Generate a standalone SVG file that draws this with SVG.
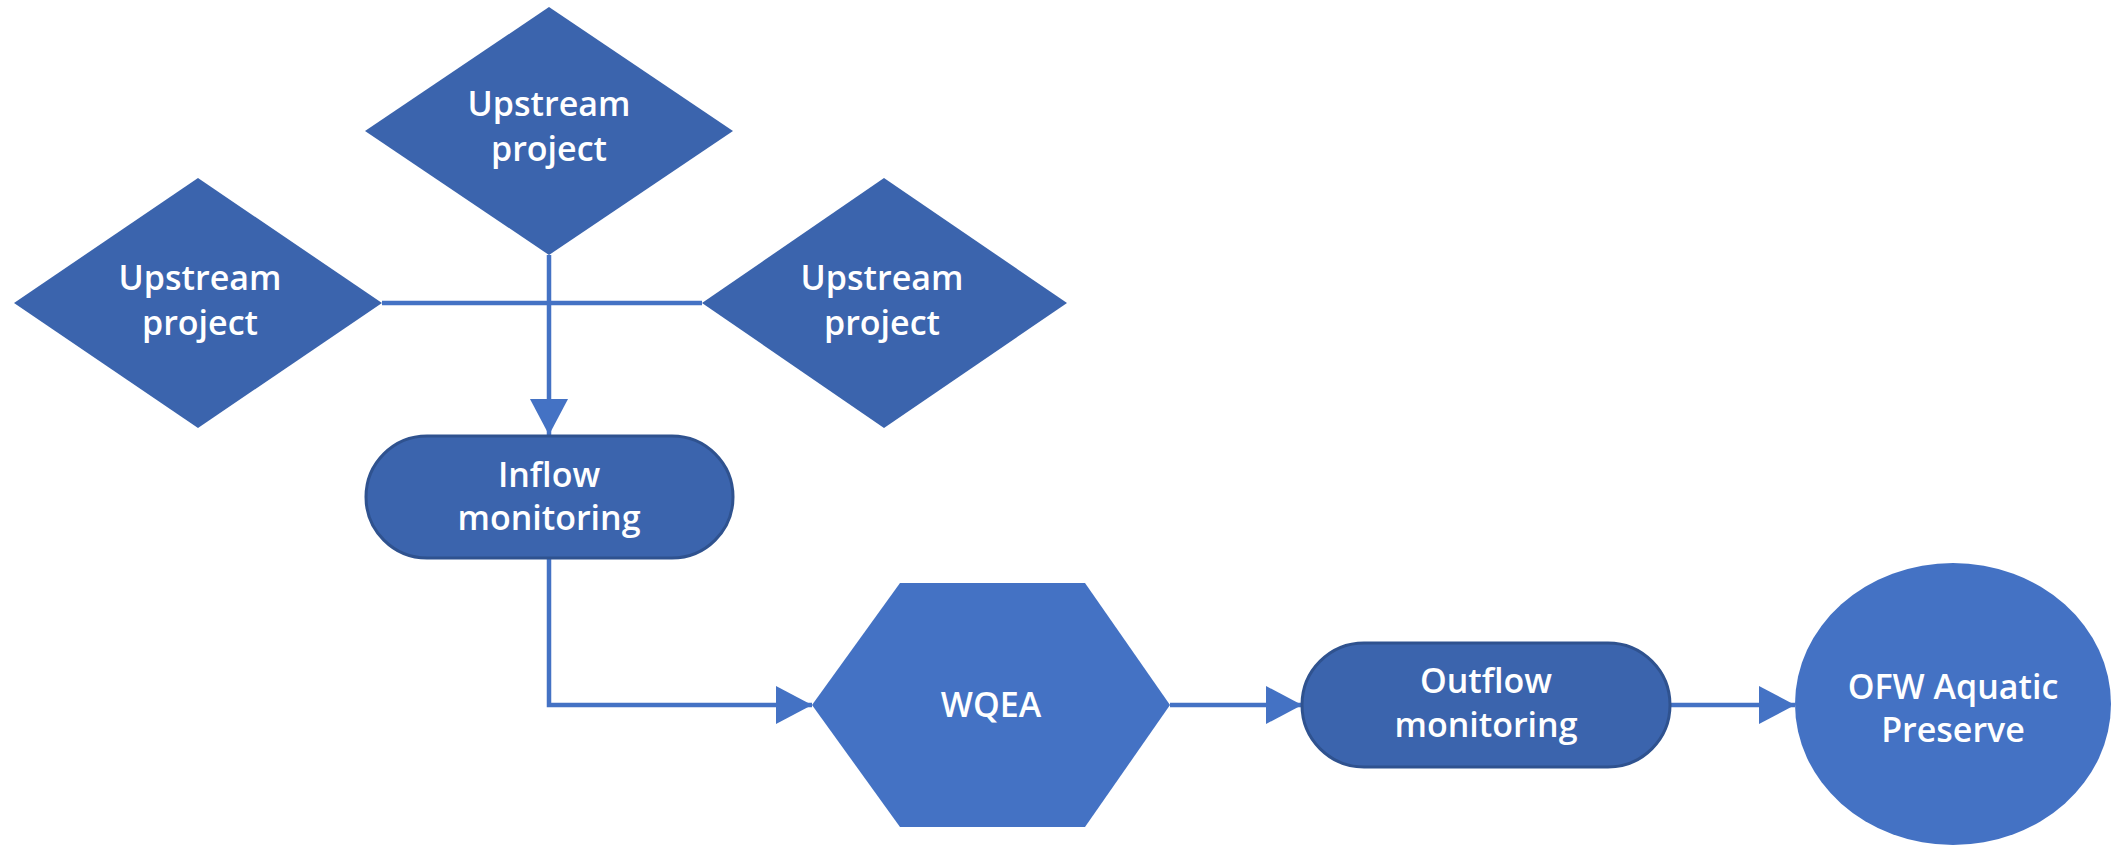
<svg xmlns="http://www.w3.org/2000/svg" width="2111" height="847" viewBox="0 0 2111 847">
<style>
.dk{fill:#3B64AD;}
.pill{fill:#3B64AD;stroke:#2F528F;stroke-width:3;}
.lt{fill:#4472C4;}
.t{font-family:"Open Sans","Liberation Sans",sans-serif;font-weight:600;font-size:34px;fill:#FFFFFF;text-anchor:middle;}
.ln{fill:none;stroke:#4472C4;stroke-width:4.5;}
</style>
<defs>
<marker id="ah" markerUnits="userSpaceOnUse" markerWidth="40" markerHeight="40" refX="36" refY="19" orient="auto">
<path d="M0,0 L36,19 L0,38 Z" fill="#4472C4"/>
</marker>
</defs>
<rect width="2111" height="847" fill="#FFFFFF"/>
<g id="connectors">
<path class="ln" d="M382,303 H702"/>
<path class="ln" d="M549,255 V435" marker-end="url(#ah)"/>
<path class="ln" d="M549,558 V705 H812" marker-end="url(#ah)"/>
<path class="ln" d="M1170,705 H1302" marker-end="url(#ah)"/>
<path class="ln" d="M1670,705 H1795" marker-end="url(#ah)"/>
</g>
<g id="upstream-top">
<polygon class="dk" points="549,7 733,131 549,255 365,131"/>
<text class="t" x="549" y="116">Upstream</text>
<text class="t" x="549" y="161">project</text>
</g>
<g id="upstream-left">
<polygon class="dk" points="198,178 382,303 198,428 14,303"/>
<text class="t" x="200" y="290">Upstream</text>
<text class="t" x="200" y="335">project</text>
</g>
<g id="upstream-right">
<polygon class="dk" points="884,178 1067,303 884,428 702,303"/>
<text class="t" x="882" y="290">Upstream</text>
<text class="t" x="882" y="335">project</text>
</g>
<g id="inflow">
<rect class="pill" x="366" y="436" width="367" height="122" rx="61" ry="61"/>
<text class="t" x="549" y="487">Inflow</text>
<text class="t" x="549" y="530">monitoring</text>
</g>
<g id="wqea">
<polygon class="lt" points="812,705 900,583 1085,583 1170,705 1085,827 900,827"/>
<text class="t" x="991" y="717">WQEA</text>
</g>
<g id="outflow">
<rect class="pill" x="1302" y="643" width="368" height="124" rx="62" ry="62"/>
<text class="t" x="1486" y="693">Outflow</text>
<text class="t" x="1486" y="737">monitoring</text>
</g>
<g id="preserve">
<ellipse class="lt" cx="1953" cy="704" rx="158" ry="141"/>
<text class="t" x="1953" y="699">OFW Aquatic</text>
<text class="t" x="1953" y="742">Preserve</text>
</g>
</svg>
